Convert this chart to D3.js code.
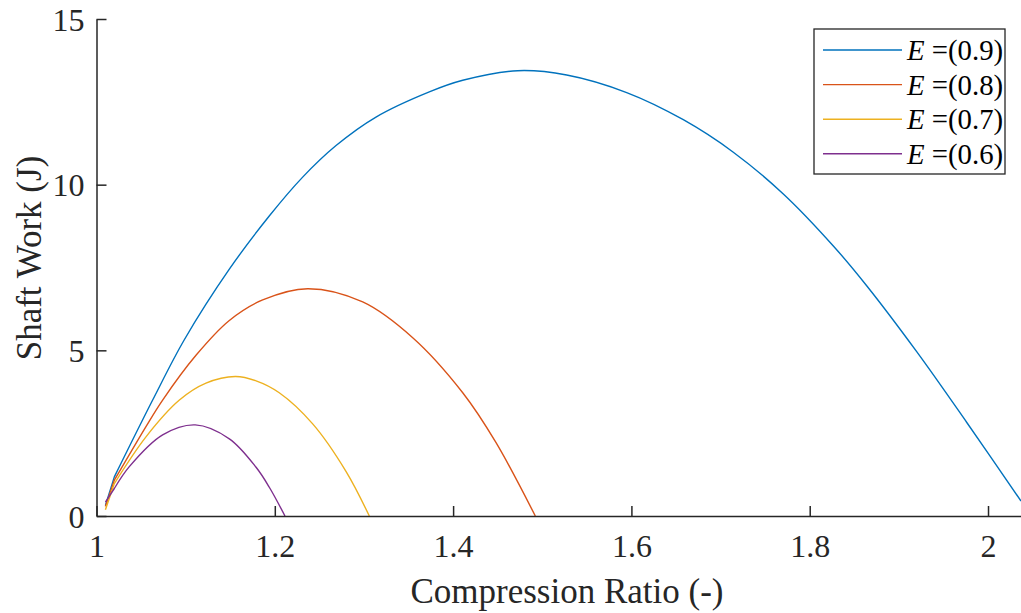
<!DOCTYPE html>
<html>
<head>
<meta charset="utf-8">
<script src="https://cdn.jsdelivr.net/npm/d3@7"></script>
<style>
	body { margin: 0; background: #fff; }
	svg { display: block; font-family: "Liberation Serif", "Times New Roman", serif; }
</style>
</head>
<body>
<div id="chart"></div>
<script>
// valores
var xTicks = [1, 1.2, 1.4, 1.6, 1.8, 2];
var yTicks = [0, 5, 10, 15];
var effLabels = ['0.9', '0.8', '0.7', '0.6'];

var ratio09 = [1.01, 1.02, 1.063, 1.0985, 1.149, 1.194, 1.231, 1.2687, 1.3135, 1.3733, 1.4108, 1.4724, 1.5274, 1.5947, 1.6582, 1.7143, 1.7704, 1.8265, 1.8639, 1.92, 1.976, 2.037];
var work09  = [0.32, 1.18, 3.5, 5.32, 7.45, 9.06, 10.22, 11.18, 12.04, 12.80, 13.15, 13.44, 13.31, 12.78, 11.96, 10.98, 9.72, 8.15, 6.95, 4.96, 2.83, 0.45];

var ratio08 = [1.01, 1.02, 1.0555, 1.0742, 1.1116, 1.149, 1.1864, 1.2369, 1.2986, 1.3547, 1.4108, 1.448, 1.4922];
var work08  = [0.29, 1.08, 2.7, 3.5, 4.85, 5.9, 6.52, 6.86, 6.46, 5.38, 3.72, 2.22, 0];

var ratio07 = [1.01, 1.02, 1.0555, 1.093, 1.1228, 1.1557, 1.179, 1.205, 1.2425, 1.28, 1.306];
var work07  = [0.19, 0.98, 2.39, 3.5, 4.01, 4.21, 4.08, 3.72, 2.78, 1.34, 0];

var ratio06 = [1.01, 1.02, 1.0368, 1.0742, 1.1108, 1.149, 1.179, 1.194, 1.2114];
var work06  = [0.42, 0.83, 1.49, 2.45, 2.75, 2.33, 1.47, 0.86, 0];

var colors = ['#0072BD', '#D95319', '#EDB120', '#7E2F8E'];

var W = 1021, H = 613;
var AXIS = '#262626';

var series = [
	{ x: ratio09, y: work09 },
	{ x: ratio08, y: work08 },
	{ x: ratio07, y: work07 },
	{ x: ratio06, y: work06 }
].map(function(s, i) {
	return { label: effLabels[i], color: colors[i],
		points: s.x.map(function(v, j) { return [v, s.y[j]]; }) };
});

var svg = d3.select('#chart').append('svg')
	.attr('width', W).attr('height', H);

var x = d3.scaleLinear().domain([1, 2.037]).range([96.5, 1021]);
var y = d3.scaleLinear().domain([0, 15]).range([516, 19]);

// curvas: primer tramo recto, el resto suavizado
var line = d3.line()
	.x(function(d) { return x(d[0]); })
	.y(function(d) { return y(d[1]); });
var smooth = d3.line()
	.x(function(d) { return x(d[0]); })
	.y(function(d) { return y(d[1]); })
	.curve(d3.curveCatmullRom.alpha(0.5));

svg.selectAll('.curve')
	.data(series)
	.enter()
	.append('path')
	.attr('class', 'curve')
	.attr('fill', 'none')
	.attr('stroke', function(d) { return d.color; })
	.attr('stroke-width', 1.4)
	.attr('stroke-linejoin', 'round')
	.attr('d', function(d) {
		return line(d.points.slice(0, 2)) + smooth(d.points.slice(1)).replace(/^M/, 'L');
	});

// ejes, ticks hacia adentro
var gx = svg.append('g')
	.attr('transform', 'translate(0,' + y(0) + ')')
	.call(d3.axisBottom(x).tickValues(xTicks).tickSizeInner(-10).tickSizeOuter(0)
		.tickFormat(d3.format('')));
var gy = svg.append('g')
	.attr('transform', 'translate(' + x(1) + ',0)')
	.call(d3.axisLeft(y).tickValues(yTicks).tickSizeInner(-10).tickSizeOuter(0));

[gx, gy].forEach(function(g) {
	g.select('.domain').attr('stroke', AXIS).attr('stroke-width', 1.5);
	g.selectAll('.tick line').attr('stroke', AXIS).attr('stroke-width', 1.5);
	g.selectAll('.tick text').attr('fill', AXIS).style('font-size', '32px')
		.style('font-family', '"Liberation Serif", "Times New Roman", serif');
});
gx.selectAll('.tick text').attr('y', 41).attr('dy', 0);
gy.selectAll('.tick text').attr('x', -12).attr('dy', 11);

svg.append('text')
	.attr('x', 567).attr('y', 603)
	.attr('text-anchor', 'middle')
	.attr('fill', AXIS)
	.style('font-size', '35px')
	.text('Compression Ratio (-)');

svg.append('text')
	.attr('transform', 'translate(41,258) rotate(-90)')
	.attr('text-anchor', 'middle')
	.attr('fill', AXIS)
	.style('font-size', '35px')
	.text('Shaft Work (J)');

// leyenda
var legend = svg.append('g');
legend.append('rect')
	.attr('x', 814).attr('y', 29)
	.attr('width', 191).attr('height', 145)
	.attr('fill', '#fff')
	.attr('stroke', AXIS).attr('stroke-width', 1.3);

var rows = legend.selectAll('.row')
	.data(series)
	.enter()
	.append('g')
	.attr('class', 'row')
	.attr('transform', function(d, i) { return 'translate(0,' + (50 + i * 34.6) + ')'; });

rows.append('line')
	.attr('x1', 823).attr('x2', 902)
	.attr('stroke', function(d) { return d.color; })
	.attr('stroke-width', 1.4);

var label = rows.append('text')
	.attr('x', 907).attr('y', 10)
	.attr('fill', '#000')
	.style('font-size', '28.8px');
label.append('tspan').style('font-style', 'italic').text('E');
label.append('tspan').text(function(d) { return ' =(' + d.label + ')'; });
</script>
</body>
</html>
